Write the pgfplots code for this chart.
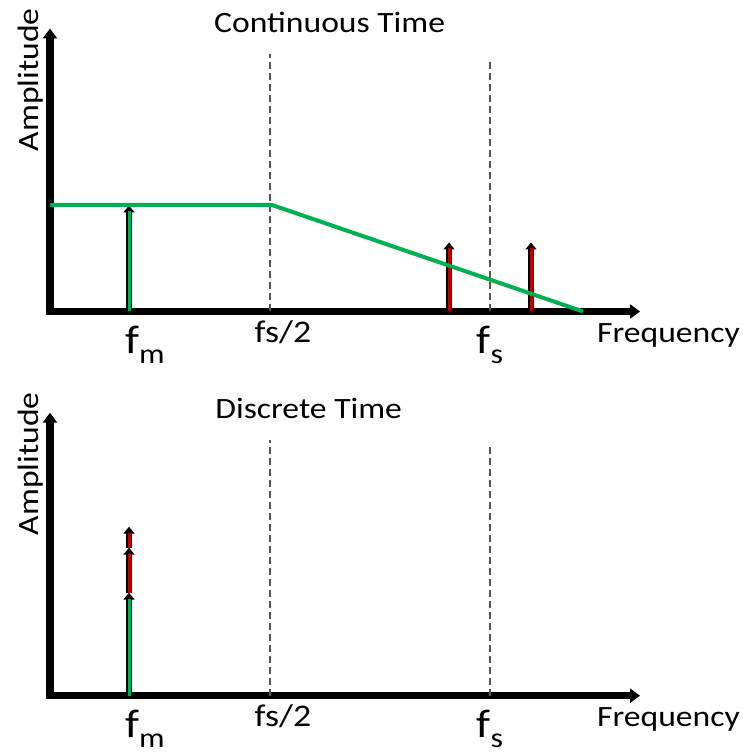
\documentclass[border=0pt]{standalone}
\usepackage{fontspec}
\setmainfont{Carlito}[FakeStretch=1.14]
\usepackage{pgfplots}
\pgfplotsset{compat=1.18}
\usetikzlibrary{arrows.meta}
\definecolor{grn}{HTML}{00B050}
\definecolor{drd}{HTML}{C00000}
\definecolor{dgray}{HTML}{555555}
\newcommand{\txt}{\fontsize{29.5pt}{32pt}\selectfont}
\newcommand{\fsub}[1]{{\fontsize{40pt}{40pt}\selectfont f}\raisebox{-10pt}{\fontsize{28pt}{28pt}\selectfont #1}}
\pgfplotsset{
  panel/.style={
    width=590pt, height=283pt, scale only axis,
    xmin=50, xmax=640, ymin=0, ymax=283,
    axis lines=left, clip=false,
    x axis line style={line width=7pt, line cap=rect, -{Triangle[length=10pt,width=14pt]}},
    y axis line style={line width=7pt, line cap=rect, -{Triangle[length=10pt,width=14pt]}},
    xtick={145,283,490},
    xticklabels={\fsub{m}, \raisebox{11pt}{\fontsize{31.5pt}{33pt}\selectfont fs/2}, \fsub{s}},
    ytick=\empty, major tick length=0pt,
    xticklabel style={anchor=base, yshift=-42pt, inner sep=0pt, font=\txt},
    xlabel={Frequency},
    xlabel style={at={(axis description cs:0.927,0)}, anchor=base west, yshift=-31pt, inner sep=0pt, font=\txt},
    ylabel={Amplitude},
    ylabel style={at={(axis description cs:-0.0203,0.566)}, anchor=base west, inner sep=0pt, font=\txt},
    title style={anchor=base west, inner sep=0pt, font=\txt},
  },
  dashv/.style={dgray, line width=2pt, dash pattern=on 7pt off 4pt},
  outl/.style={black, line width=6pt, -{Triangle[length=7pt,width=11pt]}},
  inr/.style={line width=3pt},
}
\begin{document}
\begin{tikzpicture}
\useasboundingbox (0,0) rectangle (743pt,754pt);
% ---------- Continuous time ----------
\begin{axis}[panel, at={(50pt,442.5pt)}, anchor=south west,
  title={Continuous Time}, title style={at={(axis description cs:0.278,0.963)}}]
\addplot[dashv] coordinates {(270,0) (270,257)};
\addplot[dashv] coordinates {(490,0) (490,252)};
% impulse at fm
\addplot[outl] coordinates {(129,0) (129,106)};
\addplot[grn, inr] coordinates {(129,0) (129,100)};
% aliased components
\addplot[outl] coordinates {(449,0) (449,69)};
\addplot[drd, inr] coordinates {(449,0) (449,63)};
\addplot[outl] coordinates {(531,0) (531,69)};
\addplot[drd, inr] coordinates {(531,0) (531,63)};
% filter response
\addplot[grn, line width=4pt] coordinates {(50,106.5) (272,106.5) (583,0)};
\end{axis}
% ---------- Discrete time ----------
\begin{axis}[panel, at={(50pt,58.3pt)}, anchor=south west,
  title={Discrete Time}, title style={at={(axis description cs:0.280,0.960)}}]
\addplot[dashv] coordinates {(270,0) (270,256)};
\addplot[dashv] coordinates {(490,0) (490,253)};
\addplot[outl] coordinates {(129,0) (129,103)};
\addplot[grn, inr] coordinates {(129,0) (129,97)};
\addplot[outl] coordinates {(129,103) (129,148)};
\addplot[drd, inr] coordinates {(129,103) (129,142)};
\addplot[outl] coordinates {(129,148) (129,169)};
\addplot[drd, inr] coordinates {(129,148) (129,163)};
\end{axis}
\end{tikzpicture}
\end{document}
